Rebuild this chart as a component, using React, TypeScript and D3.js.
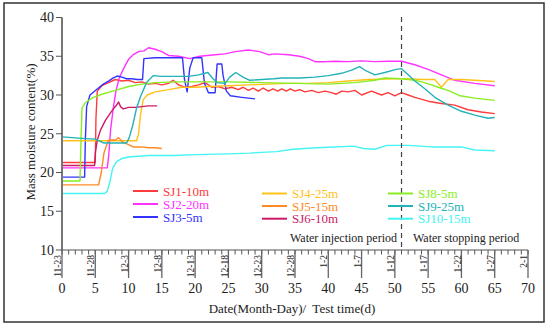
import React from "react";
import * as d3 from "d3";

type P = [number, number];

const SJ1: P[] = [[0,21.3],[5.0,21.3],[5.1,27],[5.3,30.5],[6,31.2],[7,31.6],[8,32.0],[9,31.8],[10,31.9],[11,31.6],[12,31.7],[13,31.4],[14,31.5],[15,31.3],[16,31.5],[16.7,31.9],[17.5,31.3],[18.5,31.0],[19.5,31.1],[20.5,31.3],[21.5,31.6],[22.5,31.0],[23.5,31.1],[24.5,30.8],[25.5,31.0],[26.5,30.7],[27.2,31.0],[28,30.6],[28.7,30.9],[29.5,30.5],[30.2,30.9],[31,30.5],[31.7,30.8],[32.4,30.5],[33,30.8],[33.7,30.5],[34.3,30.8],[35,30.5],[35.7,30.7],[36.5,30.4],[37.5,30.6],[38.5,30.3],[39.5,30.5],[40.5,30.3],[41.2,30.1],[42,30.5],[43,30.4],[44,30.6],[45,30.0],[46.5,30.5],[48,30.0],[49,30.3],[50,29.9],[51,30.3],[52,30.0],[53,29.7],[55,29.2],[57,28.9],[59,28.7],[61,28.1],[63,27.8],[65,27.6]];
const SJ2: P[] = [[0,20.6],[6.8,20.6],[7.0,22],[7.3,25.5],[7.7,28.3],[8.1,30.5],[8.6,32.2],[9.3,33.5],[10,34.6],[10.7,35.2],[11.5,35.6],[12.3,35.7],[13,36.1],[14,35.9],[15,35.6],[16,35.1],[17.5,35.0],[19.2,34.7],[20.7,35.0],[23,35.2],[24.5,35.3],[26,35.6],[28,35.8],[29.7,35.6],[31,35.2],[32,35.3],[34,35.2],[35.7,35.0],[37,34.7],[38,34.3],[39.5,34.3],[41,34.35],[43,34.3],[45,34.4],[47,34.3],[49,34.35],[51,34.35],[53,33.9],[55,33.3],[57,32.6],[59,31.9],[62,31.5],[65,31.2]];
const SJ3: P[] = [[0,19.4],[3.4,19.4],[3.5,24],[3.7,28.5],[4.2,30],[5.2,30.7],[6.2,31.4],[7,31.8],[7.7,32.2],[8.3,32.45],[9,32.3],[9.7,32.1],[10.5,32.1],[11.3,32.0],[12.1,32.0],[12.3,34.7],[14,34.8],[16,34.8],[18.1,34.8],[18.4,32],[18.8,30.4],[19.2,33.5],[19.7,34.8],[21.0,34.8],[21.4,31.5],[22.0,30.3],[23.0,30.3],[23.3,34.0],[24.0,34.0],[24.2,32.5],[24.7,30.5],[25.3,29.9],[27,29.7],[29,29.5]];
const SJ4: P[] = [[0,24.1],[11.2,24.1],[11.5,25],[11.8,27.5],[12.2,29.4],[12.8,30.0],[14,30.4],[16,30.7],[18,31.0],[20,31.0],[22,31.1],[25,31.2],[28,31.3],[31,31.4],[34,31.5],[37,31.5],[40,31.6],[43,31.8],[46,32.0],[50,32.1],[52,32.1],[54,32.0],[56,32.0],[57,31.0],[58,32.0],[60,32.0],[62,31.9],[65,31.75]];
const SJ5: P[] = [[0,18.4],[5.5,18.4],[5.9,20],[6.3,22.5],[6.6,23.3],[7,24.2],[8,24.2],[8.5,24.5],[9,24.0],[9.5,23.8],[10.7,23.3],[12,23.3],[13,23.2],[14,23.2],[15,23.1]];
const SJ6: P[] = [[0,20.9],[4.9,20.9],[5.0,22.5],[5.3,24.2],[5.8,25.5],[6.5,26.7],[7.2,27.6],[7.8,28.3],[8.2,28.7],[8.5,29.1],[8.8,28.5],[9.2,28.2],[10,28.4],[11,28.4],[12,28.5],[13,28.6],[14.3,28.6]];
const SJ8: P[] = [[0,18.9],[2.7,18.9],[2.85,24],[3.0,28.3],[3.5,29.0],[4.5,29.6],[6,30.1],[8,30.6],[10,31.1],[12,31.4],[14,31.6],[17,31.7],[20,31.7],[25,31.7],[30,31.6],[35,31.5],[40,31.4],[44,31.6],[47,31.9],[48.5,32.2],[51,32.1],[53,31.9],[54,31.7],[55.5,31.3],[56.5,31.0],[58,30.6],[59.8,29.9],[62,29.6],[65,29.3]];
const SJ9: P[] = [[0,24.6],[3,24.4],[5,24.3],[5.8,24.0],[6.3,23.8],[9.7,23.8],[10.1,24.5],[10.6,26],[11.2,28.3],[11.8,29.8],[12.7,31.6],[13.7,32.5],[15,32.4],[17,32.4],[19,32.4],[20.5,32.6],[21.9,32.9],[22.7,32.1],[23.3,31.6],[24.5,31.5],[25.2,32.3],[26.1,32.9],[27.2,32.3],[28.2,31.9],[30,32.0],[31.8,32.1],[33,32.2],[35.7,32.2],[38,32.3],[40,32.5],[42,32.8],[43.5,33.2],[44.7,33.65],[45.7,33.1],[47,32.6],[48.5,32.9],[50.2,33.3],[51,33.4],[52,32.6],[53,31.8],[54.5,30.8],[56,29.7],[58,28.7],[60,27.9],[62,27.4],[64,27.0],[65,27.1]];
const SJ10: P[] = [[0,17.3],[6.4,17.3],[6.8,17.6],[7.2,18.8],[7.6,20.5],[8.2,21.4],[9,21.8],[10,22.0],[13,22.2],[17,22.2],[20,22.3],[25,22.4],[28.2,22.5],[30,22.6],[32.2,22.7],[34.7,23.0],[38.3,23.2],[43.8,23.4],[45.3,23.1],[47,23.0],[48.8,23.5],[52,23.5],[55.5,23.3],[60,23.3],[62,22.9],[65,22.8]];

const seriesNames = ["SJ1-10m","SJ2-20m","SJ3-5m","SJ4-25m","SJ5-15m","SJ6-10m","SJ8-5m","SJ9-25m","SJ10-15m"];
const seriesData = [SJ1, SJ2, SJ3, SJ4, SJ5, SJ6, SJ8, SJ9, SJ10];
const seriesColors = ["#ff3b3b","#ff33ff","#3333ff","#ffc21a","#ff8a26","#cc1a66","#88ee22","#22b2b8","#44f4f4"];

const xTicks = [0,5,10,15,20,25,30,35,40,45,50,55,60,65,70];
const dateLabels = ["11-23","11-28","12-3","12-8","12-13","12-18","12-23","12-28","1-2","1-7","1-12","1-17","1-22","1-27","2-1"];
const yTicks = [10,15,20,25,30,35,40];
const stopDay = 51;

const FONT = "'Liberation Serif', 'Times New Roman', serif";

export default function App() {
  const x = d3.scaleLinear().domain([0, 70]).range([62, 528]);
  const y = d3.scaleLinear().domain([10, 40]).range([250, 17.5]);
  const line = d3.line<P>().x(d => x(d[0])).y(d => y(d[1]));
  const minor = d3.range(0, 71, 1);

  const legendPos = [
    [133, 191],[133, 204],[133, 217],
    [262, 193.5],[262, 206],[262, 218.7],
    [388, 193.5],[388, 206],[388, 218.7],
  ];

  return (
    <div style={{ position: "fixed", left: 0, top: 0 }}>
      <svg width={550} height={328} style={{ display: "block", background: "#fff" }} fontFamily={FONT}>
        <rect x={4} y={3} width={540} height={319} fill="#fff" stroke="#333" strokeWidth={1.5} />
        {seriesData.map((d, i) => (
          <path key={i} d={line(d) || ""} fill="none" stroke={seriesColors[i]} strokeWidth={1.4} strokeLinejoin="round" />
        ))}
        <line x1={x(stopDay)} x2={x(stopDay)} y1={17} y2={250} stroke="#444" strokeWidth={1.2} strokeDasharray="5,4" />
        <line x1={62} x2={62} y1={y(40)} y2={y(10)} stroke="#777" strokeWidth={2} />
        {yTicks.map(t => (
          <g key={t}>
            <line x1={56} x2={62} y1={y(t)} y2={y(t)} stroke="#555" strokeWidth={1} />
            <text x={54} y={y(t)} dy="0.35em" textAnchor="end" fontSize={14} fill="#222">{t}</text>
          </g>
        ))}
        <line x1={x(0)} x2={x(70)} y1={250} y2={250} stroke="#555" strokeWidth={1.2} />
        {minor.map(t => (
          <line key={t} x1={x(t)} x2={x(t)} y1={250} y2={254.5} stroke="#555" strokeWidth={1} />
        ))}
        {xTicks.map((t, i) => (
          <g key={t}>
            <line x1={x(t)} x2={x(t)} y1={250} y2={278} stroke="#666" strokeWidth={1.3} />
            <text transform={`translate(${x(t) - 0.8},255) rotate(-90)`} textAnchor="end" fontSize={9.5} fill="#222">{dateLabels[i]}</text>
            <text x={x(t)} y={292.5} textAnchor="middle" fontSize={14} fill="#222">{t}</text>
          </g>
        ))}
        <text transform="translate(35,132) rotate(-90)" textAnchor="middle" fontSize={13} fill="#222">Mass moisture content(%)</text>
        <text x={292} y={313} textAnchor="middle" fontSize={13} fill="#222" style={{ whiteSpace: "pre" }}>{"Date(Month-Day)/  Test time(d)"}</text>
        <text x={290} y={241.5} fontSize={12} fill="#222">Water injection period</text>
        <text x={413} y={241.5} fontSize={12} fill="#222">Water stopping period</text>
        {seriesNames.map((n, i) => {
          const [lx, ly] = legendPos[i];
          return (
            <g key={n}>
              <line x1={lx} x2={lx + 25} y1={ly} y2={ly} stroke={seriesColors[i]} strokeWidth={2} />
              <text x={lx + 30} y={ly} dy="0.35em" fontSize={13} fill={seriesColors[i]}>{n}</text>
            </g>
          );
        })}
      </svg>
    </div>
  );
}
